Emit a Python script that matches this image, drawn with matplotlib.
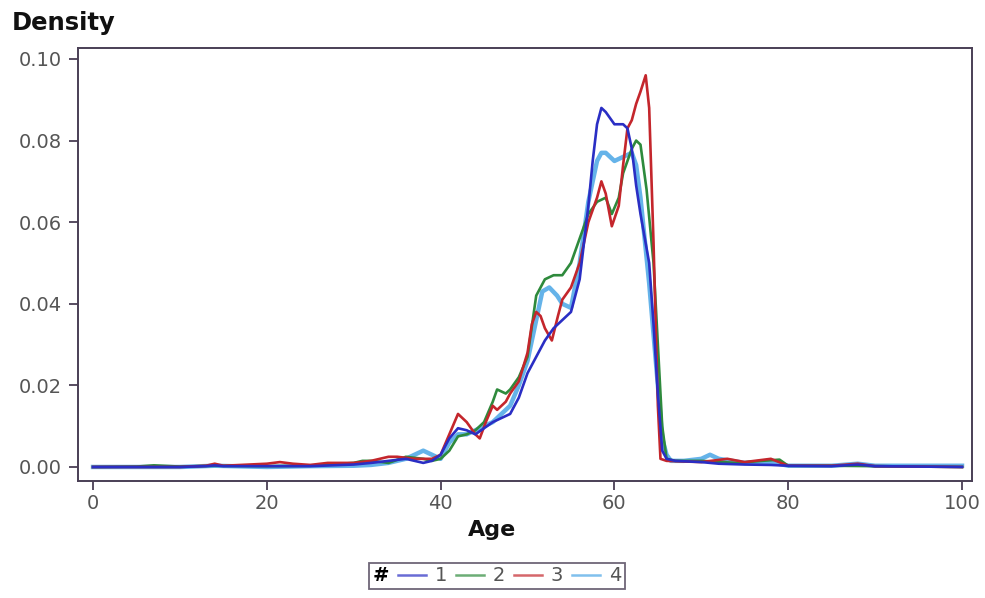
import numpy as np
import matplotlib.pyplot as plt
from matplotlib.lines import Line2D

plt.rcParams['font.family'] = ['DejaVu Sans']

# values, per group (#)
ages_1 = [0, 5, 10, 13, 14, 15, 20, 25, 30, 32, 34, 36, 37, 38, 39, 40, 41, 42, 43, 44,
          45, 46, 47, 48, 49, 50, 51, 52, 53, 54, 55, 56, 57, 57.5, 58, 58.5, 59, 60, 61,
          61.5, 62, 62.5, 63, 64, 64.5, 65, 65.5, 66, 67, 70, 72, 75, 78, 80, 85, 88, 90,
          100]
dens_1 = [0, 0, 0, 0.0002, 0.0004, 0.0002, 0.0002, 0.0002, 0.0006, 0.001, 0.0015, 0.002,
          0.0015, 0.001, 0.0015, 0.003, 0.007, 0.0095, 0.009, 0.008, 0.0095, 0.011, 0.012,
          0.013, 0.017, 0.023, 0.027, 0.031, 0.034, 0.036, 0.038, 0.046, 0.064, 0.075,
          0.084, 0.088, 0.087, 0.084, 0.084, 0.083, 0.078, 0.069, 0.062, 0.05, 0.035,
          0.018, 0.004, 0.002, 0.0015, 0.0012, 0.0008, 0.0006, 0.0005, 0.0003, 0.0002,
          0.0006, 0.0002, 0.0]

ages_2 = [0, 5, 7, 10, 14, 20, 25, 30, 31, 32, 34, 36, 38, 39, 40, 41, 42, 43, 44, 45,
          46, 46.5, 47.5, 48, 49, 50, 51, 52, 53, 54, 55, 56, 57, 58, 59, 59.7, 60.5, 61,
          62, 62.5, 63, 63.7, 64.5, 65, 65.5, 66, 67, 70, 74, 77, 79, 80, 85, 90, 100]
dens_2 = [0, 0.0001, 0.0004, 0.0001, 0.0003, 0.0002, 0.0003, 0.001, 0.0015, 0.0015, 0.001,
          0.0025, 0.002, 0.0015, 0.002, 0.004, 0.0075, 0.008, 0.009, 0.011, 0.016, 0.019,
          0.018, 0.019, 0.022, 0.027, 0.042, 0.046, 0.047, 0.047, 0.05, 0.056, 0.062,
          0.065, 0.066, 0.062, 0.066, 0.072, 0.078, 0.080, 0.079, 0.068, 0.05, 0.03, 0.01,
          0.002, 0.0015, 0.0015, 0.001, 0.0015, 0.0018, 0.0003, 0.0003, 0.0002, 0.0]

ages_3 = [0, 5, 10, 13, 14, 15, 20, 21.5, 23, 25, 27, 30, 32, 34, 35, 37, 39, 40, 41, 42,
          43, 44, 44.5, 45.2, 46, 46.5, 47.5, 48, 49, 50, 50.5, 51, 51.5, 52, 52.8, 53.5,
          54, 55, 56, 57, 58, 58.5, 59, 59.7, 60.5, 61, 61.5, 62, 62.5, 63, 63.6, 64,
          64.5, 65, 65.3, 66, 70, 73, 75, 78, 80, 85, 88, 90, 100]
dens_3 = [0, 0, 0, 0.0003, 0.0008, 0.0003, 0.0008, 0.0012, 0.0008, 0.0005, 0.001, 0.001,
          0.0015, 0.0025, 0.0025, 0.002, 0.002, 0.003, 0.008, 0.013, 0.011, 0.008, 0.007,
          0.011, 0.015, 0.014, 0.016, 0.018, 0.021, 0.028, 0.035, 0.038, 0.037, 0.034,
          0.031, 0.037, 0.041, 0.044, 0.05, 0.06, 0.066, 0.070, 0.067, 0.059, 0.064,
          0.074, 0.083, 0.085, 0.089, 0.092, 0.096, 0.088, 0.055, 0.015, 0.002, 0.0015,
          0.0012, 0.002, 0.0012, 0.002, 0.0003, 0.0003, 0.0008, 0.0002, 0.0]

ages_4 = [0, 5, 10, 14, 20, 25, 30, 32, 34, 36, 37, 38, 39, 40, 41, 42, 43, 44, 45, 46,
          47, 48, 49, 50, 51, 51.7, 52.5, 53.4, 54, 55, 56, 57, 58, 58.5, 59, 60, 61, 62,
          62.5, 63, 64, 65, 65.5, 66, 66.5, 68, 70, 71, 72, 75, 78, 80, 85, 88, 90, 100]
dens_4 = [0, 0, 0, 0.0003, 0, 0.0002, 0.0003, 0.0005, 0.001, 0.002, 0.003, 0.004, 0.003,
          0.002, 0.006, 0.008, 0.008, 0.009, 0.010, 0.011, 0.013, 0.015, 0.020, 0.026,
          0.036, 0.043, 0.044, 0.042, 0.040, 0.039, 0.05, 0.065, 0.075, 0.077, 0.077,
          0.075, 0.076, 0.077, 0.074, 0.066, 0.045, 0.02, 0.007, 0.003, 0.0015, 0.0015,
          0.002, 0.003, 0.002, 0.001, 0.0012, 0.0003, 0.0003, 0.0008, 0.0003, 0.0003]

groups = ['1', '2', '3', '4']
colors = ['#2a2ec4', '#2e8a3c', '#c4262c', '#4aa6e6']

fig = plt.figure(figsize=(9.85, 5.98), dpi=100)
ax = fig.add_axes([0.0792, 0.1957, 0.9076, 0.7241])

series = [(ages_1, dens_1), (ages_2, dens_2), (ages_3, dens_3), (ages_4, dens_4)]
widths = [1.9, 1.9, 1.9, 3.2]
alphas = [1, 1, 1, 0.85]
order = [3, 1, 2, 0]  # light blue underneath, blue on top
for i in order:
    a, d = series[i]
    ax.plot(a, d, color=colors[i], lw=widths[i], alpha=alphas[i], zorder=2 + order.index(i))
handles = [Line2D([], [], color=colors[i], lw=1.8, alpha=0.7, label=groups[i])
           for i in range(4)]

ax.set_xlim(-1.73, 101.15)
ax.set_ylim(-0.00343, 0.1027)
ax.set_xticks([0, 20, 40, 60, 80, 100])
ax.set_yticks([0, 0.02, 0.04, 0.06, 0.08, 0.10])
ax.set_yticklabels(['0.00', '0.02', '0.04', '0.06', '0.08', '0.10'])
ax.tick_params(direction='out', length=6.5, width=1.3, color='#4a3f55',
               labelsize=14, labelcolor='#555555')
ax.tick_params(axis='y', pad=5)
ax.tick_params(axis='x', pad=3)
for s in ax.spines.values():
    s.set_color('#4a3f55')
    s.set_linewidth(1.4)

ax.set_xlabel('Age', fontsize=16, fontweight='bold', labelpad=5, color='#111111')
ax.xaxis.label.set_x(0.463)  # label sits a little left of centre in the original
fig.text(0.012, 0.9498, 'Density', fontsize=17.5, fontweight='bold', ha='left',
         va='baseline', color='#111111')

leg = fig.legend(handles=handles, ncol=4, title='#', loc='center',
                 bbox_to_anchor=(0.5046, 0.0368), fontsize=14, frameon=True,
                 fancybox=False, handlelength=1.45, handletextpad=0.45,
                 columnspacing=0.45, borderpad=0.2, borderaxespad=0)
leg.get_title().set_fontweight('bold')
leg.get_title().set_fontsize(14)
leg.get_frame().set_edgecolor('#4a3f55')
leg.get_frame().set_linewidth(1.3)
for t in leg.get_texts():
    t.set_color('#555555')
# put the "#" title to the left of the entries
c = leg.get_children()[0]
title_box = c.get_children()[0]
hpack = c.get_children()[1]
c._children = [hpack]
hpack._children = [title_box] + hpack.get_children()

fig.savefig('out.png', dpi=100, facecolor='white')
